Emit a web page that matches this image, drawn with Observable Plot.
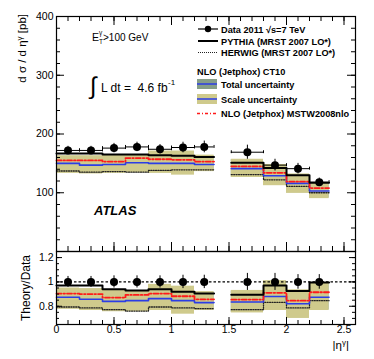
<!DOCTYPE html>
<html><head><meta charset="utf-8">
<script src="https://cdn.jsdelivr.net/npm/d3@7"></script>
<script src="https://cdn.jsdelivr.net/npm/@observablehq/plot@0.6"></script>
<style>
body{margin:0;background:#fff;}
#c{position:relative;width:374px;height:359px;font-family:"Liberation Sans",Arial,sans-serif;}
#c svg{position:absolute;left:0;overflow:visible;}
</style></head><body><div id="c"></div>
<script>
// |eta^gamma| bins
const binLo = [0, 0.2, 0.4, 0.6, 0.8, 1.0, 1.2, 1.52, 1.8, 2.0, 2.2];
const binHi = [0.2, 0.4, 0.6, 0.8, 1.0, 1.2, 1.37, 1.8, 2.0, 2.2, 2.37];
const region = [0, 0, 0, 0, 0, 0, 0, 1, 1, 1, 1];
// dsigma/deta [pb]
const dataXsec = [172, 172, 176, 178, 174, 177, 178, 169, 147, 141, 118];
const dataErr  = [7, 7, 8, 8, 8, 9, 10, 12, 10, 9, 7];
const pythia   = [167, 167, 165, 165, 164, 163, 161, 151, 142, 130, 117];
const herwig   = [137, 135, 136, 135, 138, 139, 139, 131, 122, 111, 100];
const ct10     = [150, 147, 148, 151, 150, 150, 148, 141, 129, 116, 103];
const mstw     = [155, 155, 153, 159, 157, 156, 153, 145, 134, 119, 108];
const scaleLo  = [133, 132, 133, 134, 133, 130, 136, 126, 112, 99, 90];
const scaleHi  = [163, 163, 164, 165, 171, 171, 164, 157, 148, 132, 117];
const totalLo  = [134, 133, 134, 135, 134, 131, 137, 127, 113, 100, 91];
const totalHi  = [162, 162, 163, 164, 170, 170, 163, 156, 147, 131, 116];
// Theory / Data
const dataRatio = [1, 1, 1, 1, 1, 1, 1, 1, 1, 1, 1];
const ratioErr  = [0.045, 0.045, 0.05, 0.05, 0.05, 0.055, 0.055, 0.07, 0.07, 0.06, 0.06];
const pythiaR   = [0.97, 0.97, 0.94, 0.93, 0.94, 0.92, 0.905, 0.895, 0.97, 0.925, 0.995];
const herwigR   = [0.794, 0.786, 0.772, 0.76, 0.794, 0.786, 0.78, 0.772, 0.832, 0.786, 0.846];
const ct10R     = [0.874, 0.857, 0.84, 0.846, 0.863, 0.846, 0.83, 0.835, 0.88, 0.82, 0.874];
const mstwR     = [0.904, 0.9, 0.871, 0.893, 0.904, 0.882, 0.857, 0.855, 0.91, 0.846, 0.915];
const scaleLoR  = [0.775, 0.765, 0.755, 0.755, 0.765, 0.735, 0.765, 0.745, 0.765, 0.70, 0.765];
const scaleHiR  = [0.95, 0.945, 0.93, 0.925, 0.98, 0.965, 0.92, 0.93, 1.01, 0.935, 0.995];
const totalLoR  = [0.78, 0.77, 0.76, 0.76, 0.77, 0.74, 0.77, 0.75, 0.77, 0.705, 0.77];
const totalHiR  = [0.945, 0.94, 0.925, 0.92, 0.975, 0.96, 0.915, 0.925, 1.005, 0.93, 0.99];
// ticks
const xTicks = [0, 0.5, 1, 1.5, 2, 2.5];
const yTicksTop = [100, 200, 300, 400];
const yTicksRatio = [0.8, 1, 1.2];

const W = 374, ML = 56, MR = 19;
const FW = W - ML - MR;
const font = '"Liberation Sans", Arial, sans-serif';
const khaki = "#cfca8c", green = "#869e88", blue = "#2b3de6", red = "#ff1a1a";

const bins = binLo.map((lo, i) => ({lo, hi: binHi[i], c: (lo + binHi[i]) / 2, r: region[i]}));
function steps(vals) {
  const p = [];
  bins.forEach((b, i) => {
    p.push({x: b.lo, y: vals[i], r: b.r});
    const last = i === bins.length - 1 || bins[i + 1].r !== b.r;
    if (last) p.push({x: b.hi, y: vals[i], r: b.r});
  });
  return p;
}
function band(lo, hi) { return bins.map((b, i) => ({x1: b.lo, x2: b.hi, y1: lo[i], y2: hi[i]})); }
function pts(vals, errs) { return bins.map((b, i) => ({x: b.c, lo: b.lo, hi: b.hi, y: vals[i], e: errs[i]})); }

function frameTicks(FH, xMinor, yMinor, yMajor, xMaj, yMaj, xMin, yMin, topTicks) {
  const m = [];
  m.push(Plot.tickY(yMinor, {y: d => d, insetRight: FW - yMin, stroke: "#000"}));
  m.push(Plot.tickY(yMinor, {y: d => d, insetLeft: FW - yMin, stroke: "#000"}));
  m.push(Plot.tickY(yMajor, {y: d => d, insetRight: FW - yMaj, stroke: "#000"}));
  m.push(Plot.tickY(yMajor, {y: d => d, insetLeft: FW - yMaj, stroke: "#000"}));
  m.push(Plot.tickX(xMinor, {x: d => d, insetTop: FH - xMin, stroke: "#000"}));
  m.push(Plot.tickX(xTicks, {x: d => d, insetTop: FH - xMaj, stroke: "#000"}));
  if (topTicks) {
    m.push(Plot.tickX(xMinor, {x: d => d, insetBottom: FH - xMin, stroke: "#000"}));
    m.push(Plot.tickX(xTicks, {x: d => d, insetBottom: FH - xMaj, stroke: "#000"}));
  }
  return m;
}

function theoryMarks(sLo, sHi, tLo, tHi, her, ct, ms, py) {
  return [
    Plot.rect(band(tLo, tHi), {x1: "x1", x2: "x2", y1: "y1", y2: "y2", fill: green}),
    Plot.rect(band(sLo, sHi), {x1: "x1", x2: "x2", y1: "y1", y2: "y2", fill: khaki}),
    Plot.line(steps(her), {x: "x", y: "y", z: "r", curve: "step-after", stroke: "#222", strokeWidth: 1.3, strokeDasharray: "1,1.4"}),
    Plot.line(steps(ct), {x: "x", y: "y", z: "r", curve: "step-after", stroke: blue, strokeWidth: 1.6}),
    Plot.line(steps(ms), {x: "x", y: "y", z: "r", curve: "step-after", stroke: red, strokeWidth: 1.8, strokeDasharray: "5,2,1.5,2"}),
    Plot.line(steps(py), {x: "x", y: "y", z: "r", curve: "step-after", stroke: "#000", strokeWidth: 2})
  ];
}

// ---------- top panel ----------
const xMinor = d3.range(0, 2.61, 0.1).map(v => +v.toFixed(2));
const FHtop = 235;
const dTop = pts(dataXsec, dataErr);
const topPlot = Plot.plot({
  width: W, height: 251, marginLeft: ML, marginRight: MR, marginTop: 16, marginBottom: 0,
  style: {fontFamily: font, fontSize: "10.5px", color: "#000", background: "transparent"},
  x: {domain: [0, 2.6], axis: null},
  y: {domain: [0, 400], axis: null},
  marks: [
    ...theoryMarks(scaleLo, scaleHi, totalLo, totalHi, herwig, ct10, mstw, pythia),
    Plot.ruleY(dTop, {x1: "lo", x2: "hi", y: "y", stroke: "#000", strokeWidth: 1}),
    Plot.ruleX(dTop, {x: "lo", y1: d => d.y - 2.5, y2: d => d.y + 2.5, stroke: "#000"}),
    Plot.ruleX(dTop, {x: "hi", y1: d => d.y - 2.5, y2: d => d.y + 2.5, stroke: "#000"}),
    Plot.ruleX(dTop, {x: "x", y1: d => d.y - d.e, y2: d => d.y + d.e, stroke: "#000", strokeWidth: 1}),
    Plot.dot(dTop, {x: "x", y: "y", r: 4, fill: "#000", stroke: "none"}),
    ...frameTicks(FHtop, xMinor, d3.range(0, 401, 20), yTicksTop, 9, 8, 5, 4, true),
    Plot.frame({stroke: "#000", strokeWidth: 1.2}),
    Plot.axisY(yTicksTop, {anchor: "left", tickSize: 0, tickPadding: 3, fontSize: 10.5, label: null})
  ]
});
topPlot.style.top = "0px";
document.getElementById("c").appendChild(topPlot);

// ---------- ratio panel ----------
const FHr = 73;
const dR = pts(dataRatio, ratioErr);
const botPlot = Plot.plot({
  width: W, height: 108, marginLeft: ML, marginRight: MR, marginTop: 0, marginBottom: 35,
  style: {fontFamily: font, fontSize: "10.5px", color: "#000", background: "transparent"},
  x: {domain: [0, 2.6], axis: null},
  y: {domain: [0.65, 1.25], axis: null},
  marks: [
    ...theoryMarks(scaleLoR, scaleHiR, totalLoR, totalHiR, herwigR, ct10R, mstwR, pythiaR),
    Plot.ruleY([1], {stroke: "#000", strokeWidth: 1.2, strokeDasharray: "2.5,2"}),
    Plot.ruleX(dR, {x: "x", y1: d => d.y - d.e, y2: d => d.y + d.e, stroke: "#000", strokeWidth: 1}),
    Plot.dot(dR, {x: "x", y: "y", r: 4, fill: "#000", stroke: "none"}),
    ...frameTicks(FHr, xMinor, d3.range(0.65, 1.251, 0.05).map(v => +v.toFixed(2)), yTicksRatio, 7, 6, 4, 3, false),
    Plot.frame({stroke: "#000", strokeWidth: 1.2}),
    Plot.axisY(yTicksRatio, {anchor: "left", tickSize: 0, tickPadding: 3, fontSize: 10.5, label: null, tickFormat: d => String(d)}),
    Plot.axisX(xTicks, {anchor: "bottom", tickSize: 0, tickPadding: 1, fontSize: 10.5, label: null, tickFormat: d => String(d)})
  ]
});
botPlot.style.top = "251px";
document.getElementById("c").appendChild(botPlot);

// ---------- annotations ----------
const st = d3.select(topPlot);
function txt(sel, x, y, s, o = {}) {
  const t = sel.append("text").text(s)
    .attr("font-family", font).attr("font-size", o.size || 10.5).attr("fill", o.fill || "#000")
    .attr("text-anchor", o.anchor || "start");
  if (o.transform) t.attr("transform", o.transform); else t.attr("x", x).attr("y", y);
  if (o.weight) t.attr("font-weight", o.weight);
  if (o.style) t.attr("font-style", o.style);
  return t;
}
// y-axis title
txt(st, 0, 0, "", {size: 11.5, anchor: "end", transform: "translate(26,14) rotate(-90)"})
  .call(t => {
    t.append("tspan").text("d σ / d η");
    t.append("tspan").attr("dy", -4).attr("font-size", 8).text("γ");
    t.append("tspan").attr("dy", 4).text(" [pb]");
  });
// ET cut
txt(st, 92, 41, "E", {size: 10.5});
txt(st, 99, 34.5, "γ", {size: 6.5});
txt(st, 99, 44, "T", {size: 6.5});
txt(st, 103, 41, ">100 GeV", {size: 10});
// luminosity
txt(st, 90, 94, "∫", {size: 24});
txt(st, 101, 92, "L dt =  4.6 fb", {size: 12}).style("white-space", "pre");
txt(st, 168, 85, "-1", {size: 8});
// ATLAS
txt(st, 94, 215, "ATLAS", {size: 13, weight: "bold", style: "italic"});
// legend
const lg = st.append("g");
const lx = 221, fs = 9.2;
lg.append("line").attr("x1", 198).attr("x2", 218).attr("y1", 29).attr("y2", 29).attr("stroke", "#000").attr("stroke-width", 1.2);
lg.append("circle").attr("cx", 208).attr("cy", 29).attr("r", 3.2).attr("fill", "#000");
txt(lg, lx, 32.5, "Data 2011 √s=7 TeV", {size: fs, weight: "bold"});
lg.append("line").attr("x1", 198).attr("x2", 218).attr("y1", 41).attr("y2", 41).attr("stroke", "#000").attr("stroke-width", 2);
txt(lg, lx, 44.5, "PYTHIA (MRST 2007 LO*)", {size: fs, weight: "bold"});
lg.append("line").attr("x1", 198).attr("x2", 218).attr("y1", 52.5).attr("y2", 52.5).attr("stroke", "#222").attr("stroke-width", 1).attr("stroke-dasharray", "1,1");
txt(lg, lx, 56, "HERWIG (MRST 2007 LO*)", {size: fs, weight: "bold"});
txt(lg, 197, 74.5, "NLO (Jetphox) CT10", {size: fs, weight: "bold"});
lg.append("rect").attr("x", 197).attr("y", 79).attr("width", 20).attr("height", 10).attr("fill", green);
lg.append("line").attr("x1", 197).attr("x2", 217).attr("y1", 84).attr("y2", 84).attr("stroke", blue).attr("stroke-width", 1.5);
txt(lg, lx, 87.5, "Total uncertainty", {size: fs, weight: "bold"});
lg.append("rect").attr("x", 197).attr("y", 94).attr("width", 20).attr("height", 10).attr("fill", khaki);
lg.append("line").attr("x1", 197).attr("x2", 217).attr("y1", 99).attr("y2", 99).attr("stroke", blue).attr("stroke-width", 1.5);
txt(lg, lx, 102.5, "Scale uncertainty", {size: fs, weight: "bold"});
lg.append("line").attr("x1", 197).attr("x2", 217).attr("y1", 113.5).attr("y2", 113.5).attr("stroke", red).attr("stroke-width", 1.5).attr("stroke-dasharray", "3,2,1,2");
txt(lg, lx, 117, "NLO (Jetphox) MSTW2008nlo", {size: fs, weight: "bold"});

// ratio panel titles
const sb = d3.select(botPlot);
txt(sb, 0, 0, "Theory/Data", {size: 12, anchor: "end", transform: "translate(30,4) rotate(-90)"});
txt(sb, 349, 98, "", {size: 11.5, anchor: "end"}).call(t => {
  t.append("tspan").text("|η");
  t.append("tspan").attr("dy", -4).attr("font-size", 8).text("γ");
  t.append("tspan").attr("dy", 4).text("|");
});
</script></body></html>
